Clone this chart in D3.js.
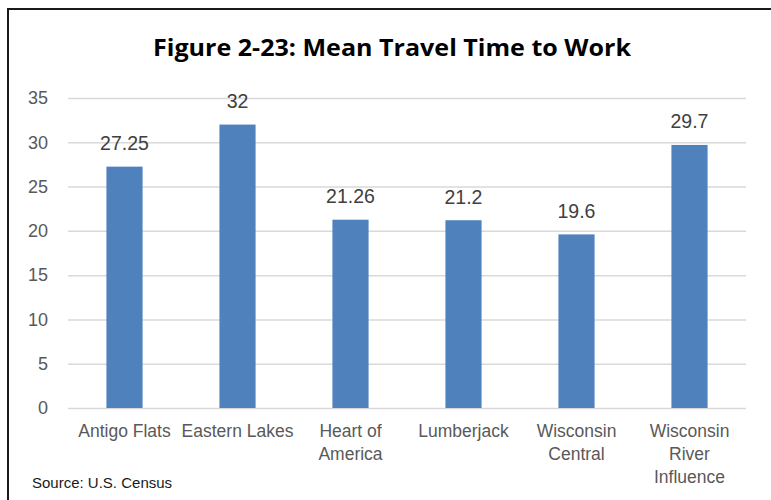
<!DOCTYPE html>
<html>
<head>
<meta charset="utf-8">
<script src="https://cdn.jsdelivr.net/npm/d3@7"></script>
<style>
  html, body { margin: 0; padding: 0; background: #fff; }
  svg { display: block; }
</style>
</head>
<body>
<svg id="chart" width="771" height="500"></svg>
<script>
// Mean travel time to work (minutes) by region
const categories = [
  ["Antigo Flats"],
  ["Eastern Lakes"],
  ["Heart of", "America"],
  ["Lumberjack"],
  ["Wisconsin", "Central"],
  ["Wisconsin", "River", "Influence"]
];
const values = [27.25, 32, 21.26, 21.2, 19.6, 29.7];
const valueLabels = ["27.25", "32", "21.26", "21.2", "19.6", "29.7"];
const yTicks = [0, 5, 10, 15, 20, 25, 30, 35];
const title = "Figure 2-23: Mean Travel Time to Work";
const source = "Source: U.S. Census";

const svg = d3.select("#chart");
const W = 771, H = 500;
const font = "'Liberation Sans', Arial, sans-serif";

// Outer frame
svg.append("rect")
  .attr("x", 8).attr("y", 9)
  .attr("width", W + 10).attr("height", H + 10)
  .attr("fill", "#fff")
  .attr("stroke", "#1a1a1a").attr("stroke-width", 2);

const plot = { left: 68, right: 746, top: 98, bottom: 408 };
const ids = categories.map((c, i) => i);

const x = d3.scaleBand()
  .domain(ids)
  .range([plot.left, plot.right])
  .paddingInner(0.68)
  .paddingOuter(0.34);

const y = d3.scaleLinear()
  .domain([0, 35])
  .range([plot.bottom, plot.top]);

// Gridlines and y tick labels via a left axis
const yAxis = svg.append("g")
  .attr("transform", `translate(${plot.left},0)`)
  .call(d3.axisLeft(y).tickValues(yTicks).tickSize(-(plot.right - plot.left)).tickPadding(20));
yAxis.select(".domain").remove();
yAxis.selectAll(".tick line").attr("stroke", "#d9d9d9").attr("stroke-width", 1.5);
yAxis.selectAll(".tick text")
  .attr("fill", "#595959")
  .style("font-family", font)
  .style("font-size", "18px");

// Bars
svg.append("g").selectAll("rect")
  .data(values)
  .join("rect")
  .attr("x", (d, i) => x(i))
  .attr("width", x.bandwidth())
  .attr("y", d => y(d))
  .attr("height", d => y(0) - y(d))
  .attr("fill", "#4f81bd");

// Value labels
svg.append("g").selectAll("text")
  .data(values)
  .join("text")
  .attr("x", (d, i) => x(i) + x.bandwidth() / 2)
  .attr("y", d => y(d) - 16.5)
  .attr("text-anchor", "middle")
  .attr("fill", "#404040")
  .style("font-family", font)
  .style("font-size", "19.5px")
  .text((d, i) => valueLabels[i]);

// Category labels (wrapped)
const xl = svg.append("g").selectAll("text")
  .data(categories)
  .join("text")
  .attr("x", (d, i) => x(i) + x.bandwidth() / 2)
  .attr("y", 437)
  .attr("text-anchor", "middle")
  .attr("fill", "#595959")
  .style("font-family", font)
  .style("font-size", "17.5px");
xl.each(function(lines, i) {
  d3.select(this).selectAll("tspan")
    .data(lines)
    .join("tspan")
    .attr("x", x(i) + x.bandwidth() / 2)
    .attr("dy", (d, j) => j === 0 ? 0 : 23)
    .text(d => d);
});

// Title
svg.append("text")
  .attr("x", 392)
  .attr("y", 56)
  .attr("text-anchor", "middle")
  .attr("fill", "#000")
  .attr("textLength", 478)
  .attr("lengthAdjust", "spacingAndGlyphs")
  .style("font-family", "'Open Sans', 'Liberation Sans', sans-serif")
  .style("font-weight", 700)
  .style("font-size", "24px")
  .text(title);

// Source note
svg.append("text")
  .attr("x", 32)
  .attr("y", 488)
  .attr("fill", "#1a1a1a")
  .style("font-family", font)
  .style("font-size", "15px")
  .text(source);
</script>
</body>
</html>
